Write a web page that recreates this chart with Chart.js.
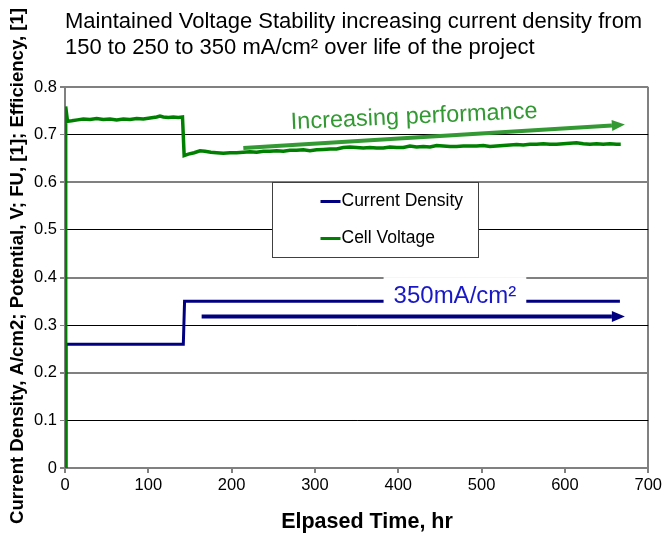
<!DOCTYPE html>
<html><head><meta charset="utf-8">
<script src="https://cdn.jsdelivr.net/npm/chart.js@4"></script>
<style>html,body{margin:0;padding:0;background:#fff}#wrap{width:665px;height:535px}</style>
</head><body><div id="wrap"><canvas id="c" width="665" height="535"></canvas></div>
<script>
// ---- text ----
const titleLines = ['Maintained Voltage Stability increasing current density from',
                    '150 to 250 to 350 mA/cm\u00B2 over life of the project'];
const xTitle = 'Elpased Time, hr';
const yTitle = 'Current Density, A/cm2; Potential, V; FU, [1]; Efficiency, [1]';
const seriesNames = ['Current Density', 'Cell Voltage'];
const annoTexts = ['Increasing performance', '350mA/cm\u00B2'];

// ---- axes ----
const xTicks = [0, 100, 200, 300, 400, 500, 600, 700];
const yTicks = [0, 0.1, 0.2, 0.3, 0.4, 0.5, 0.6, 0.7, 0.8];

// ---- series: Current Density ----
const cdTime  = [0, 1.2, 1.2, 142, 143.5, 666];
const cdValue = [0, 0,   0.26, 0.26, 0.35, 0.35];

// ---- series: Cell Voltage ----
const cvTime = [0, 0.8, 3, 8, 15, 22, 30, 38, 46, 54, 62, 70, 78, 86, 94, 102, 110, 114, 118, 124, 130, 136, 141,
  143, 148, 155, 162, 168, 175, 182, 190, 198, 206, 214, 222, 230, 238, 246, 254, 262, 270, 278, 286, 294,
  302, 310, 318, 326, 334, 342, 350, 358, 366, 374, 382, 390, 398, 406, 414, 422, 430, 438, 446, 454, 462,
  470, 478, 486, 494, 502, 510, 518, 526, 534, 542, 550, 558, 566, 574, 582, 590, 598, 606, 614, 622, 630,
  638, 646, 654, 662, 667];
const cvValue = [0, 0.759, 0.728, 0.729, 0.731, 0.733, 0.732, 0.734, 0.732, 0.733, 0.731, 0.733, 0.732, 0.734,
  0.733, 0.735, 0.737, 0.739, 0.737, 0.736, 0.737, 0.736, 0.737,
  0.656, 0.659, 0.662, 0.666, 0.665, 0.663, 0.662, 0.661, 0.662, 0.662, 0.663, 0.664, 0.663, 0.665, 0.665,
  0.666, 0.665, 0.667, 0.667, 0.668, 0.666, 0.668, 0.669, 0.670, 0.670, 0.673, 0.674, 0.673, 0.672, 0.673,
  0.672, 0.672, 0.674, 0.673, 0.673, 0.676, 0.674, 0.675, 0.674, 0.677, 0.676, 0.675, 0.675, 0.676, 0.676,
  0.676, 0.677, 0.675, 0.676, 0.677, 0.678, 0.679, 0.678, 0.680, 0.680, 0.681, 0.680, 0.680, 0.681, 0.682,
  0.683, 0.681, 0.680, 0.681, 0.680, 0.681, 0.680, 0.680];

// ---- annotations (data coordinates) ----
const greenArrowTime  = [214, 672];
const greenArrowValue = [0.672, 0.721];
const greenLabelTime = 419, greenLabelValue = 0.737;
const blueArrowTime  = [164, 672];
const blueArrowValue = [0.318, 0.318];
const blueLabelTime = 468, blueLabelValue = 0.361;
const legendTime = [249, 496];
const legendValue = [0.600, 0.444];

// ---- styles ----
const FONT = "'Liberation Sans', Arial, sans-serif";
const C_CD = '#000080', C_CV = '#008000';
const C_GREEN_ANNO = '#339933', C_BLUE_TEXT = '#1818c8';
const GRID_GRAY = '#808080';

function pts(xs, ys) { return xs.map((x, i) => ({x: x, y: ys[i]})); }

function arrow(ctx, x1, y1, x2, y2, color, w, hl, hw) {
  const a = Math.atan2(y2 - y1, x2 - x1);
  const bx = x2 - hl * Math.cos(a), by = y2 - hl * Math.sin(a);
  ctx.save();
  ctx.strokeStyle = color; ctx.fillStyle = color; ctx.lineWidth = w; ctx.lineCap = 'butt';
  ctx.beginPath(); ctx.moveTo(x1, y1); ctx.lineTo(bx, by); ctx.stroke();
  ctx.beginPath();
  ctx.moveTo(x2, y2);
  ctx.lineTo(bx + hw / 2 * Math.sin(a), by - hw / 2 * Math.cos(a));
  ctx.lineTo(bx - hw / 2 * Math.sin(a), by + hw / 2 * Math.cos(a));
  ctx.closePath(); ctx.fill();
  ctx.restore();
}

const overlay = {
  id: 'overlay',
  afterDatasetsDraw(chart) {
    const ctx = chart.ctx, xs = chart.scales.x, ys = chart.scales.y;
    const X = v => xs.getPixelForValue(v), Y = v => ys.getPixelForValue(v);
    ctx.save();
    // green arrow + label
    arrow(ctx, X(greenArrowTime[0]), Y(greenArrowValue[0]), X(greenArrowTime[1]), Y(greenArrowValue[1]), C_GREEN_ANNO, 4, 13, 11);
    ctx.save();
    ctx.translate(X(greenLabelTime), Y(greenLabelValue));
    ctx.rotate(-2.6 * Math.PI / 180);
    ctx.font = '23.5px ' + FONT; ctx.fillStyle = C_GREEN_ANNO;
    ctx.textAlign = 'center'; ctx.textBaseline = 'middle';
    ctx.fillText(annoTexts[0], 0, 0);
    ctx.restore();
    // blue label with white box
    ctx.font = '24px ' + FONT;
    const bx = X(blueLabelTime), by = Y(blueLabelValue);
    const tw = ctx.measureText(annoTexts[1]).width;
    ctx.fillStyle = '#ffffff';
    ctx.fillRect(bx - tw / 2 - 10, by - 19, tw + 20, 33);
    ctx.fillStyle = C_BLUE_TEXT; ctx.textAlign = 'center'; ctx.textBaseline = 'middle';
    ctx.fillText(annoTexts[1], bx, by);
    arrow(ctx, X(blueArrowTime[0]), Y(blueArrowValue[0]), X(blueArrowTime[1]), Y(blueArrowValue[1]), C_CD, 4, 13, 11);
    // legend
    const lx1 = Math.round(X(legendTime[0])) + 0.5, lx2 = Math.round(X(legendTime[1])) + 0.5;
    const ly1 = Math.round(Y(legendValue[0])) + 0.5, ly2 = Math.round(Y(legendValue[1])) + 0.5;
    ctx.fillStyle = '#ffffff'; ctx.fillRect(lx1, ly1, lx2 - lx1, ly2 - ly1);
    ctx.strokeStyle = '#404040'; ctx.lineWidth = 1; ctx.strokeRect(lx1, ly1, lx2 - lx1, ly2 - ly1);
    const colors = [C_CD, C_CV];
    ctx.font = '17.5px ' + FONT; ctx.textAlign = 'left'; ctx.textBaseline = 'middle';
    for (let i = 0; i < 2; i++) {
      const yy = ly1 + 19 + i * 37;
      ctx.strokeStyle = colors[i]; ctx.lineWidth = 3;
      ctx.beginPath(); ctx.moveTo(lx1 + 48, yy); ctx.lineTo(lx1 + 68, yy); ctx.stroke();
      ctx.fillStyle = '#000'; ctx.fillText(chart.data.datasets[i].label, lx1 + 69, yy);
    }
    ctx.restore();
  },
  afterDraw(chart) {
    const ctx = chart.ctx, a = chart.chartArea;
    ctx.save();
    ctx.fillStyle = '#000';
    ctx.font = '22px ' + FONT; ctx.textAlign = 'left'; ctx.textBaseline = 'alphabetic';
    ctx.fillText(titleLines[0], a.left, 28);
    ctx.fillText(titleLines[1], a.left, 54);
    ctx.font = 'bold 21.5px ' + FONT; ctx.textAlign = 'center'; ctx.textBaseline = 'middle';
    ctx.fillText(xTitle, 367, 522);
    ctx.save();
    ctx.translate(18, 266); ctx.rotate(-Math.PI / 2);
    ctx.font = 'bold 18.6px ' + FONT;
    ctx.fillText(yTitle, 0, 0);
    ctx.restore();
    ctx.restore();
  }
};

const isEven = v => Math.round(v * 10) % 2 === 0;

new Chart(document.getElementById('c'), {
  type: 'line',
  data: {
    datasets: [
      { label: seriesNames[0], data: pts(cdTime, cdValue), borderColor: C_CD, backgroundColor: C_CD,
        borderWidth: 3, pointRadius: 0, tension: 0, fill: false, order: 1 },
      { label: seriesNames[1], data: pts(cvTime, cvValue), borderColor: C_CV, backgroundColor: C_CV,
        borderWidth: 3.5, pointRadius: 0, tension: 0, fill: false, order: 0 }
    ]
  },
  options: {
    responsive: false, animation: false, devicePixelRatio: 1,
    layout: { padding: { top: 87, right: 13, left: 0, bottom: 0 } },
    plugins: { legend: { display: false }, tooltip: { enabled: false }, title: { display: false } },
    scales: {
      x: {
        type: 'linear', min: 0, max: 700,
        afterFit: s => { s.height = 67; },
        afterBuildTicks: s => { s.ticks = xTicks.map(v => ({value: v})); },
        ticks: { font: { size: 16.5, family: FONT }, color: '#000', padding: 3, maxRotation: 0 },
        grid: { color: c => (c.tick && c.tick.value === 700) ? GRID_GRAY : 'rgba(0,0,0,0)', lineWidth: 2,
                tickColor: GRID_GRAY, tickLength: 5, drawOnChartArea: true },
        border: { color: GRID_GRAY, width: 2 }
      },
      y: {
        min: 0, max: 0.8,
        afterFit: s => { s.width = 65; },
        afterBuildTicks: s => { s.ticks = yTicks.map(v => ({value: v})); },
        ticks: { font: { size: 16.5, family: FONT }, color: '#000', padding: 3,
                 callback: v => v === 0 ? '0' : v.toFixed(1) },
        grid: { color: c => isEven(c.tick.value) ? GRID_GRAY : '#000000',
                lineWidth: c => isEven(c.tick.value) ? 2 : 1,
                tickColor: GRID_GRAY, tickLength: 5 },
        border: { color: GRID_GRAY, width: 2 }
      }
    }
  },
  plugins: [overlay]
});
</script>
</body></html>
